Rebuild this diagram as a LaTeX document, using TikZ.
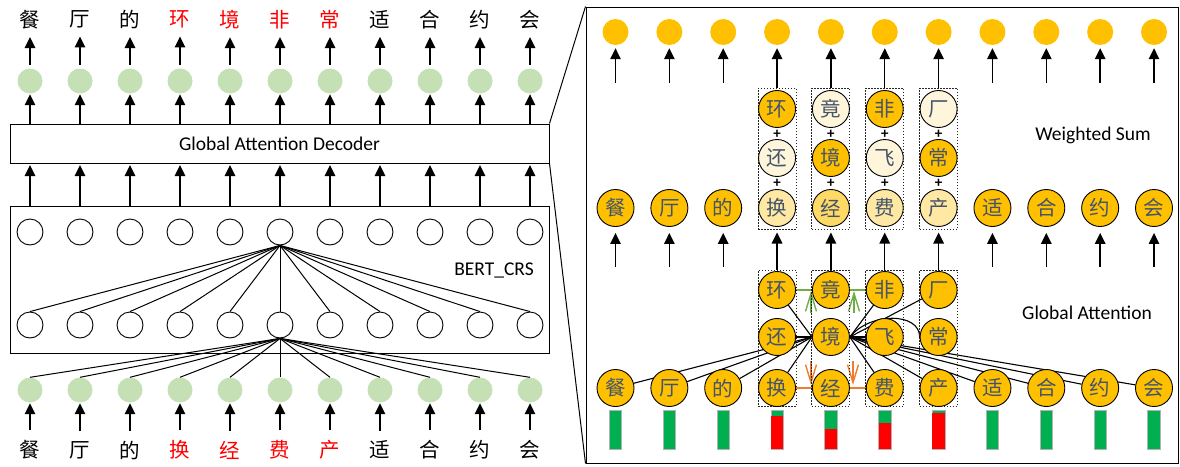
\documentclass[tikz,border=0pt]{standalone}
\usepackage{fontspec}
\setmainfont{Carlito}
\newfontfamily\cjk{Noto Sans CJK SC}
\usetikzlibrary{arrows.meta,backgrounds}
\definecolor{gold}{HTML}{FFC000}
\definecolor{cream}{HTML}{FFF5DA}
\definecolor{lightgold}{HTML}{FFE8A3}
\definecolor{midgold}{HTML}{FFD966}
\definecolor{leaf}{HTML}{C5E0B4}
\definecolor{charblue}{HTML}{44546A}
\definecolor{barg}{HTML}{00B050}
\definecolor{gline}{HTML}{70AD47}
\definecolor{oline}{HTML}{ED7D31}
\begin{document}
\begin{tikzpicture}[x=1pt,y=-1pt,
  lbl/.style={font=\fontsize{19.5}{20}\selectfont, inner sep=0},
  hz/.style={font=\cjk\fontsize{20.5}{20.5}\selectfont, inner sep=0},
  arr/.style={line width=1.4pt, -{Triangle[length=11pt,width=10.5pt]}},
  ln/.style={line width=1pt, black},
  lcirc/.style={circle, minimum size=25pt, inner sep=0, fill=leaf},
  wcirc/.style={circle, minimum size=26pt, inner sep=0, draw=black, line width=0.9pt, fill=white},
  tcirc/.style={circle, minimum size=26pt, inner sep=0, fill=gold},
  gc/.style={circle, minimum size=37pt, inner sep=0, draw=black, line width=0.9pt, fill=gold, hz, text=charblue},
  dbox/.style={rectangle, draw=black!85, dash pattern=on 1.5pt off 1.5pt, line width=1pt, minimum width=38pt, inner sep=0},
  plus/.style={font=\bfseries\fontsize{15}{15}\selectfont, inner sep=0},
  bar/.style={rectangle, fill=barg, draw=black!30, line width=0.6pt, minimum width=12.5pt, minimum height=39pt, inner sep=0}
]
\useasboundingbox (0,0) rectangle (1180,466);

% ---------------- left panel ----------------
\node[draw, line width=1pt, fill=white, minimum width=539pt, minimum height=39pt, inner sep=0, lbl] (dec) at (279.5,143.5) {Global Attention Decoder};
\node[draw, line width=1pt, minimum width=539pt, minimum height=147pt, inner sep=0] (bert) at (279.5,279.5) {};
\node[lbl] (bertlbl) at (494,270) {BERT\_CRS};

\foreach \i/\c/\tc in {1/餐/black,2/厅/black,3/的/black,4/环/red,5/境/red,6/非/red,7/常/red,8/适/black,9/合/black,10/约/black,11/会/black}{
  \node[hz,text=\tc] (lt\i) at ({30+50*(\i-1)},19.5) {\c};
  \node[lcirc] (lg\i) at ({30+50*(\i-1)},81) {};
}
\foreach \i/\c/\tc in {1/餐/black,2/厅/black,3/的/black,4/换/red,5/经/red,6/费/red,7/产/red,8/适/black,9/合/black,10/约/black,11/会/black}{
  \node[hz,text=\tc] (lb\i) at ({30+50*(\i-1)},450) {\c};
  \node[lcirc] (bg\i) at ({30+50*(\i-1)},390) {};
  \node[wcirc] (bt\i) at ({30+50*(\i-1)},232) {};
  \node[wcirc] (bb\i) at ({30+50*(\i-1)},325) {};
}
\foreach \i in {1,...,11}{
  \draw[arr, shorten <=3.5pt, shorten >=8pt] (lg\i) -- (lt\i);
  \draw[arr, shorten >=0.5pt] (dec.north -| lg\i) -- (lg\i);
  \draw[arr, shorten >=1.5pt] (bert.north -| bt\i) -- (dec.south -| bt\i);
  \draw[ln] (bt6.south) -- (bb\i.north);
  \draw[ln] (bb6.south) -- (bg\i.north);
  \draw[arr, shorten <=10pt, shorten >=0.5pt] (lb\i) -- (bg\i);
}

% ---------------- right panel frame ----------------
\node[draw, line width=1pt, minimum width=592pt, minimum height=456pt, inner sep=0] (frame) at (882,235) {};
\draw[ln] (dec.north east) -- (frame.north west);
\draw[ln] (dec.south east) -- (frame.south west);

\node[lbl] (wslbl) at (1093,135) {Weighted Sum};
\node[lbl] (galbl) at (1087,313) {Global Attention};

% top orange circles
\foreach \i [evaluate=\i as \xr using 615.5+53.85*(\i-1)] in {1,...,11}{
  \node[tcirc] (rt\i) at (\xr,32) {};
}

% weighted sum boxes
\foreach \i [evaluate=\i as \xr using 615.5+53.85*(\i-1)] in {4,...,7}{
  \node[dbox, minimum height=141pt] (wbox\i) at (\xr,158.5) {};
  \node[dbox, minimum height=136pt] (gbox\i) at (\xr,338) {};
  \node[plus] (pa\i) at (\xr,134) {+};
  \node[plus] (pb\i) at (\xr,183.5) {+};
}
\node[gc] (wa4) at (777.05,109) {环};
\node[gc, fill=cream] (wb4) at (777.05,158) {还};
\node[gc, fill=lightgold] (w4) at (777.05,208) {换};
\node[gc, fill=cream] (wa5) at (830.9,109) {竟};
\node[gc] (wb5) at (830.9,158) {境};
\node[gc, fill=midgold] (w5) at (830.9,208) {经};
\node[gc] (wa6) at (884.75,109) {非};
\node[gc, fill=cream] (wb6) at (884.75,158) {飞};
\node[gc, fill=lightgold] (w6) at (884.75,208) {费};
\node[gc, fill=cream] (wa7) at (938.6,109) {厂};
\node[gc] (wb7) at (938.6,158) {常};
\node[gc, fill=lightgold] (w7) at (938.6,208) {产};

\foreach \i/\c [evaluate=\i as \xr using 615.5+53.85*(\i-1)] in {1/餐,2/厅,3/的,8/适,9/合,10/约,11/会}{
  \node[gc] (w\i) at (\xr,208) {\c};
  \coordinate (ws\i) at (\xr,83);
  \coordinate (gs\i) at (\xr,267);
  \draw[arr, shorten >=3pt] (ws\i) -- (rt\i);
  \draw[arr, shorten >=6pt] (gs\i) -- (w\i);
}
\foreach \i in {4,...,7}{
  \draw[arr, shorten >=3pt] (wbox\i) -- (rt\i);
  \draw[arr, shorten >=3pt] (gbox\i) -- (wbox\i);
}

% global attention nodes
\node[gc] (ga4) at (777.05,290) {环};
\node[gc] (gb4) at (777.05,337) {还};
\node[gc] (g4) at (777.05,388) {换};
\node[gc] (ga5) at (830.9,290) {竟};
\node[gc] (gb5) at (830.9,337) {境};
\node[gc] (g5) at (830.9,388) {经};
\node[gc] (ga6) at (884.75,290) {非};
\node[gc] (gb6) at (884.75,337) {飞};
\node[gc] (g6) at (884.75,388) {费};
\node[gc] (ga7) at (938.6,290) {厂};
\node[gc] (gb7) at (938.6,337) {常};
\node[gc] (g7) at (938.6,388) {产};
\foreach \i/\c [evaluate=\i as \xr using 615.5+53.85*(\i-1)] in {1/餐,2/厅,3/的,8/适,9/合,10/约,11/会}{
  \node[gc] (g\i) at (\xr,388) {\c};
}

\coordinate (gu1s) at (811,313);
\coordinate (gu1e) at (811,291);
\coordinate (gu2s) at (854,313);
\coordinate (gu2e) at (854,291);
\coordinate (od1s) at (811,361);
\coordinate (od1e) at (811,385);
\coordinate (od2s) at (853,361);
\coordinate (od2e) at (853,385);

\begin{pgfonlayer}{background}
  \foreach \n in {ga4,gb4,g4,g1,g2,g3}{
    \draw[line width=1.1pt] (gb5.west) -- (\n);
  }
  \foreach \n in {ga6,ga7,gb6,g6,g7,g8,g9,g10,g11}{
    \draw[line width=1.1pt] (gb5.east) -- (\n);
  }
  \draw[line width=1.1pt] (gb5.east) .. controls +(20,-25) and +(0,-25) .. (gb7.west);
  \draw[gline, line width=1.4pt] (ga4.east) -- (ga5.west);
  \draw[gline, line width=1.4pt] (ga5.east) -- (ga6.west);
  \draw[oline, line width=1.4pt] (g4.east) -- (g5.west);
  \draw[oline, line width=1.4pt] (g5.east) -- (g6.west);
  \draw[gline, line width=1.4pt, -{Straight Barb[length=18pt,width=11pt]}] (gu1s) -- (gu1e);
  \draw[gline, line width=1.4pt, -{Straight Barb[length=18pt,width=11pt]}] (gu2s) -- (gu2e);
  \draw[oline, line width=1.4pt, -{Straight Barb[length=18pt,width=11pt]}] (od1s) -- (od1e);
  \draw[oline, line width=1.4pt, -{Straight Barb[length=18pt,width=11pt]}] (od2s) -- (od2e);
\end{pgfonlayer}

% bars
\foreach \i [evaluate=\i as \xr using 615.5+53.85*(\i-1)] in {1,...,11}{
  \node[bar] (bar\i) at (\xr,429.5) {};
}
\foreach \i/\t [evaluate=\i as \xr using 615.5+53.85*(\i-1)] in {4/416,5/429,6/422.5,7/413.3}{
  \fill[red] ({\xr-6.25},\t) rectangle ({\xr+6.25},449);
}
\end{tikzpicture}
\end{document}
